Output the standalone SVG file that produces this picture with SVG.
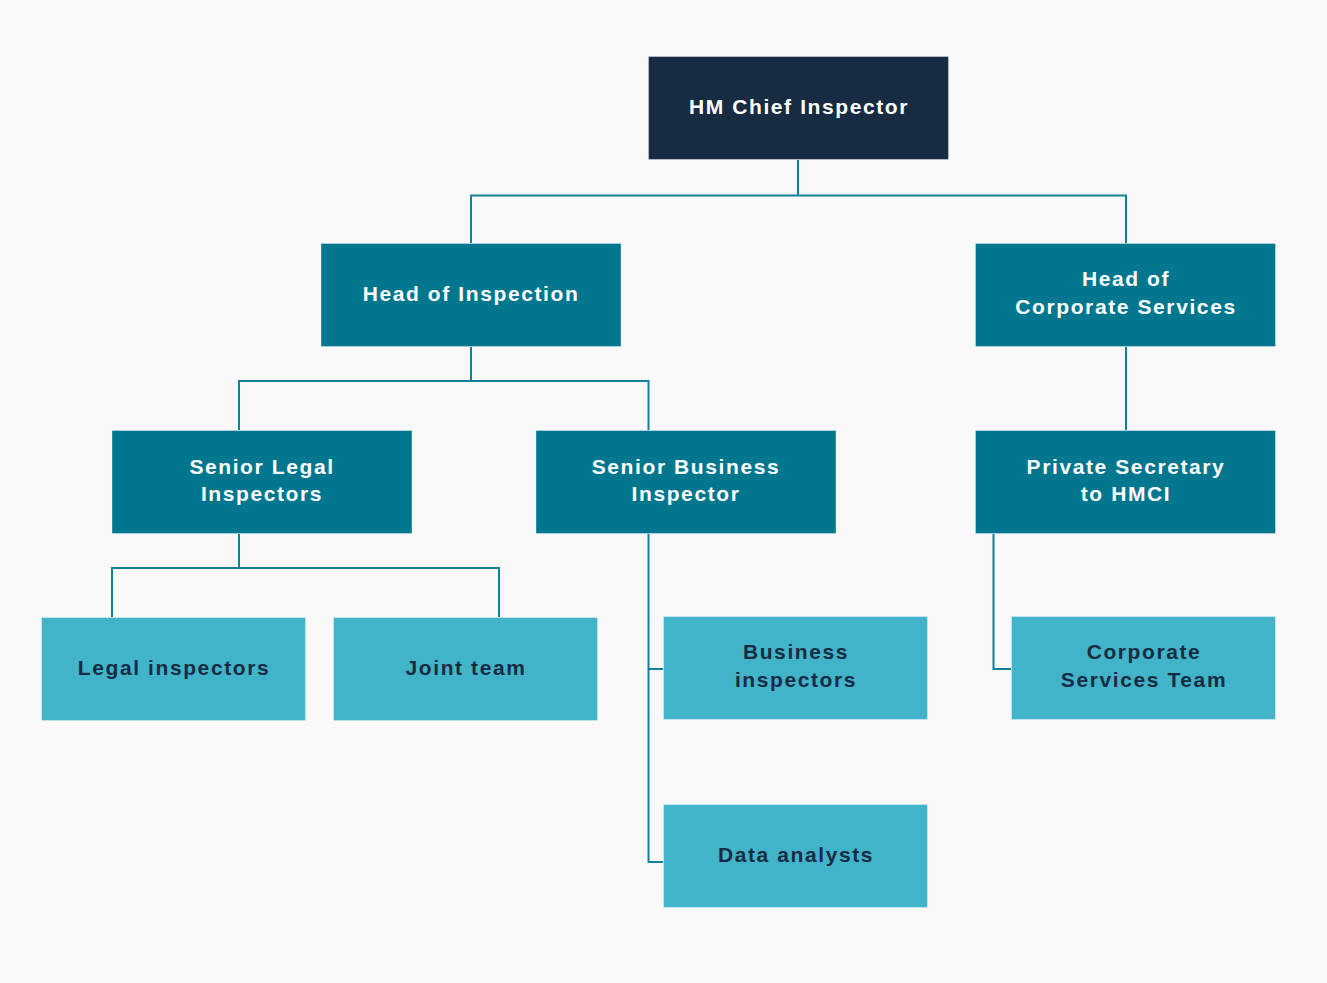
<svg xmlns="http://www.w3.org/2000/svg" width="1327" height="983" viewBox="0 0 1327 983">
<style>
.bg{fill:#F9F9F9}
.n rect{stroke:#FFFFFF;stroke-opacity:0.35;stroke-width:1}
.d rect{fill:#172B42}
.m rect{fill:#00778E}
.l rect{fill:#41B4C9}
text{font-family:"Liberation Sans",Arial,sans-serif;font-weight:bold;font-size:21px;letter-spacing:1.6px;text-anchor:middle}
.d text,.m text{fill:#FFFFFF}
.l text{fill:#172B42}
.c{fill:none;stroke:#12809A;stroke-width:2}
</style>
<rect class="bg" x="0" y="0" width="1327" height="983"/>
<g id="connectors">
<path class="c" d="M798 160V195.5H471V243M798 195.5H1126V243"/>
<path class="c" d="M471 347V381H239V430M471 381H648.5V430"/>
<path class="c" d="M239 534V568H112V617M239 568H499V617"/>
<path class="c" d="M648.5 534V862H663M648.5 669H663"/>
<path class="c" d="M1126 347V430"/>
<path class="c" d="M993.5 534V669H1011"/>
</g>
<g id="hm-chief" class="n d"><rect x="648.5" y="56.5" width="300" height="103"/><text x="799" y="114">HM Chief Inspector</text></g>
<g id="head-inspection" class="n m"><rect x="321" y="243.5" width="300" height="103"/><text x="471" y="301">Head of Inspection</text></g>
<g id="head-corporate" class="n m"><rect x="975.5" y="243.5" width="300" height="103"/><text x="1126" y="286">Head of</text><text x="1126" y="313.5">Corporate Services</text></g>
<g id="senior-legal" class="n m"><rect x="112" y="430.5" width="300" height="103"/><text x="262" y="474">Senior Legal</text><text x="262" y="501">Inspectors</text></g>
<g id="senior-business" class="n m"><rect x="536" y="430.5" width="300" height="103"/><text x="686" y="474">Senior Business</text><text x="686" y="501">Inspector</text></g>
<g id="private-secretary" class="n m"><rect x="975.5" y="430.5" width="300" height="103"/><text x="1126" y="474">Private Secretary</text><text x="1126" y="501">to HMCI</text></g>
<g id="legal-inspectors" class="n l"><rect x="41.5" y="617.5" width="264" height="103"/><text x="174" y="675">Legal inspectors</text></g>
<g id="joint-team" class="n l"><rect x="333.5" y="617.5" width="264" height="103"/><text x="466" y="675">Joint team</text></g>
<g id="business-inspectors" class="n l"><rect x="663.5" y="616.5" width="264" height="103"/><text x="796" y="659">Business</text><text x="796" y="687">inspectors</text></g>
<g id="data-analysts" class="n l"><rect x="663.5" y="804.5" width="264" height="103"/><text x="796" y="862">Data analysts</text></g>
<g id="corporate-team" class="n l"><rect x="1011.5" y="616.5" width="264" height="103"/><text x="1144" y="659">Corporate</text><text x="1144" y="687">Services Team</text></g>
</svg>
